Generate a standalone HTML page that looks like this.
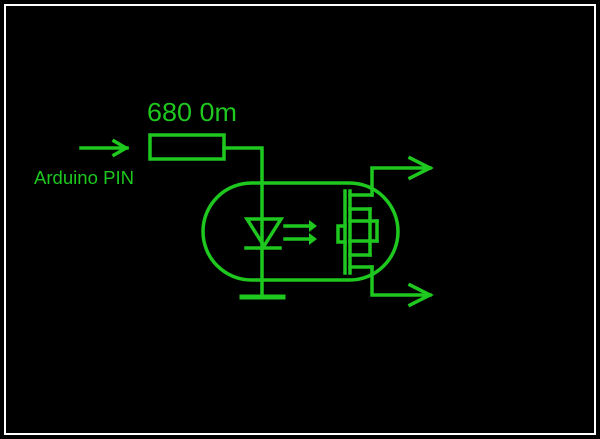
<!DOCTYPE html>
<html><head><style>html,body{margin:0;padding:0;background:#000;width:600px;height:439px;overflow:hidden}</style></head>
<body>
<svg width="600" height="439" viewBox="0 0 600 439" xmlns="http://www.w3.org/2000/svg">
<rect x="0" y="0" width="600" height="439" fill="#000"/>
<rect x="5" y="5" width="590" height="429" fill="none" stroke="#fff" stroke-width="2"/>
<g stroke="#1ec81e" stroke-width="3.5" fill="none" stroke-linecap="square">
<line x1="81" y1="148" x2="127" y2="148"/>
<polyline points="114,141 126,148 114,155"/>
<rect x="150" y="135" width="74" height="24"/>
<polyline points="224,148 262,148 262,296"/>
<line x1="242" y1="297" x2="283" y2="297" stroke-width="5"/>
<rect x="203" y="183" width="195" height="97" rx="48.5" ry="48.5"/>
<polygon points="247,219 281,219 264,246"/>
<line x1="246" y1="248" x2="280" y2="248"/>
<line x1="285" y1="226" x2="310" y2="226"/>
<line x1="285" y1="239" x2="310" y2="239"/>
<line x1="345" y1="191" x2="345" y2="273"/>
<line x1="350" y1="191" x2="350" y2="273"/>
<polyline points="345,226 338,226 338,242 345,242"/>
<line x1="350" y1="195" x2="372" y2="195"/>
<line x1="350" y1="209" x2="370" y2="209"/>
<line x1="350" y1="221" x2="377" y2="221"/>
<line x1="350" y1="241" x2="377" y2="241"/>
<line x1="350" y1="255" x2="370" y2="255"/>
<line x1="350" y1="267" x2="372" y2="267"/>
<line x1="370" y1="209" x2="370" y2="255"/>
<line x1="377" y1="221" x2="377" y2="241"/>
<polyline points="372,195 372,168 430,168"/>
<polyline points="410,158 430,168 410,178"/>
<polyline points="372,267 372,295 430,295"/>
<polyline points="410,285 430,295 410,305"/>
</g>
<g fill="#1ec81e">
<polygon points="309,220 317,226 309,232"/>
<polygon points="309,233 317,239 309,245"/>
</g>
<text x="147" y="121" font-family="Liberation Sans, sans-serif" font-size="26" fill="#1ec81e" textLength="90" lengthAdjust="spacingAndGlyphs">680 0m</text>
<text x="34" y="184" font-family="Liberation Sans, sans-serif" font-size="18" fill="#1ec81e" textLength="100" lengthAdjust="spacingAndGlyphs">Arduino PIN</text>
</svg>
</body></html>
